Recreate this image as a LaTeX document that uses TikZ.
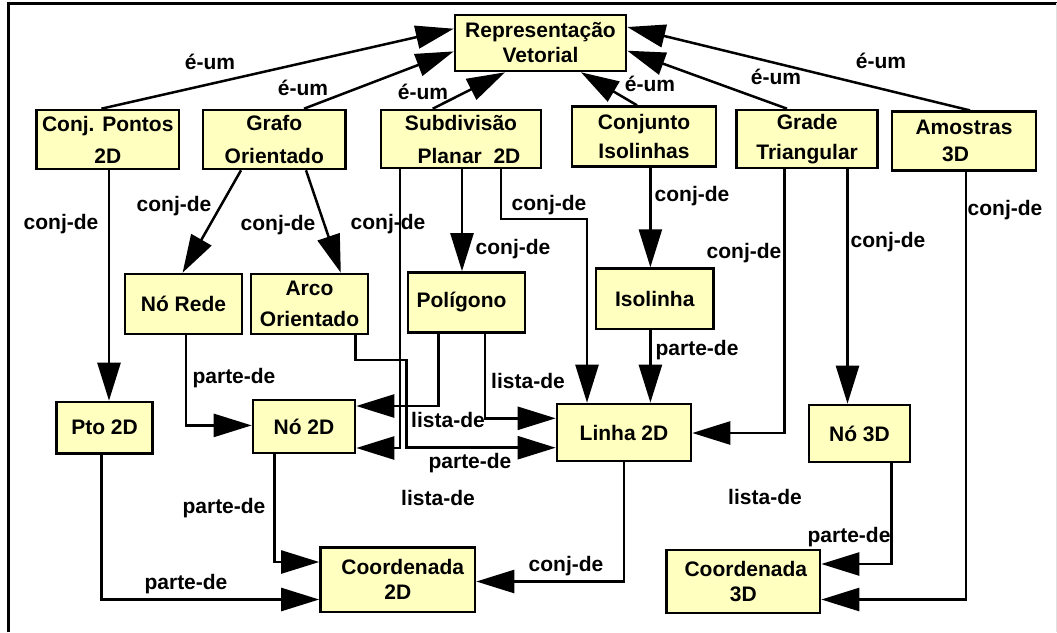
\documentclass[tikz,border=0pt]{standalone}
\usepackage{fontspec}
\setmainfont{Liberation Sans}
\usetikzlibrary{arrows.meta}
\definecolor{boxfill}{RGB}{255,255,192}
\tikzset{
  box/.style={draw, line width=2.6pt, fill=boxfill, align=center, inner sep=0pt,
    font=\bfseries\fontsize{21}{25}\selectfont},
  lbl/.style={inner sep=0pt, font=\bfseries\fontsize{21}{25}\selectfont},
  arr/.style={line width=2.5pt, line join=miter, -{Triangle[length=38pt,width=23pt]}},
}
\begin{document}
\begin{tikzpicture}[x=1pt,y=-1pt]
\useasboundingbox (0,0) rectangle (1057,632);
% frame
\draw[line width=2.5pt] (8.3,632) -- (8.3,3.3) -- (1057,3.3);
\draw[black!12, line width=1pt] (1056,3.3) -- (1056,632);

% boxes
\node[box, minimum width=171pt, minimum height=56pt] (rv) at (540.5,43) {Representação\\Vetorial};
\node[box, minimum width=142.5pt, minimum height=59pt] (cp) at (107.75,139.5) {Conj. Pontos\\[7pt]2D};
\node[box, minimum width=142.5pt, minimum height=59pt] (go) at (274.25,139.5) {Grafo\\[8pt]Orientado};
\node[box, minimum width=160pt, minimum height=58pt] (sp) at (461,139) {Subdivisão\\[8pt]\hspace*{16pt}Planar~~2D};
\node[box, minimum width=144pt, minimum height=60pt] (ci) at (644,136.6) {Conjunto\\[4pt]Isolinhas};
\node[box, minimum width=141pt, minimum height=58pt] (gt) at (807.1,139) {Grade\\[5pt]Triangular};
\node[box, minimum width=144pt, minimum height=59pt] (am) at (964,141.2) {Amostras\\[2pt]3D\hspace*{17pt}};
\node[box, minimum width=117pt, minimum height=60pt] (nr) at (183.5,304) {Nó Rede};
\node[box, minimum width=117pt, minimum height=60pt] (ao) at (309.5,304) {Arco\\[6pt]Orientado};
\node[box, minimum width=117pt, minimum height=60pt] (pg) at (466.5,302.5) {Polígono\hspace*{10pt}};
\node[box, minimum width=117.6pt, minimum height=60.4pt] (il) at (654.8,298.8) {Isolinha};
\node[box, minimum width=96.3pt, minimum height=51.4pt] (p2) at (104.6,427.7) {Pto 2D};
\node[box, minimum width=102pt, minimum height=53pt] (n2) at (304,426.5) {Nó 2D};
\node[box, minimum width=134pt, minimum height=57pt] (l2) at (624,432.5) {Linha 2D};
\node[box, minimum width=101pt, minimum height=57pt] (n3) at (859.5,433.5) {Nó 3D};
\node[box, minimum width=154.5pt, minimum height=64.3pt] (c2) at (397.75,579.85) {\hspace*{10pt}Coordenada\\2D};
\node[box, minimum width=153.4pt, minimum height=63.2pt] (c3) at (743.3,581.4) {\hspace*{5pt}Coordenada\\3D};

% é-um connectors
\draw[arr] (cp.north -| 101.4,0) -- (rv.west |- 0,28.7);
\draw[arr] (go.north -| 304,0) -- (rv.west |- 0,51.4);
\draw[arr] (sp.north -| 432.7,0) -- (rv.south -| 505,0);
\draw[arr] (ci.north -| 637,0) -- (rv.south -| 581,0);
\draw[arr] (gt.north -| 787,0) -- (rv.east |- 0,50.7);
\draw[arr] (am.north -| 970,0) -- (rv.east |- 0,27);

% other connectors
\draw[arr] (cp.south -| 109,0) -- (p2.north -| 109,0);
\draw[arr] (go.south -| 241,0) -- (nr.north -| 182.6,0);
\draw[arr] (go.south -| 306,0) -- (ao.north -| 340.8,0);
\draw[arr] (sp.south -| 400,0) -- (400,448) -- (n2.east |- 0,448);
\draw[arr] (sp.south -| 462,0) -- (pg.north -| 462,0);
\draw[arr] (sp.south -| 501,0) -- (501,219) -- (587,219) -- (l2.north -| 587,0);
\draw[arr] (ci.south -| 650.4,0) -- (il.north -| 650.4,0);
\draw[arr] (il.south -| 650.4,0) -- (l2.north -| 650.4,0);
\draw[arr] (gt.south -| 784.6,0) -- (784.6,433) -- (l2.east |- 0,433);
\draw[arr] (gt.south -| 847.5,0) -- (n3.north -| 847.5,0);
\draw[arr] (am.south -| 965.8,0) -- (965.8,599.5) -- (c3.east |- 0,599.5);
\draw[arr] (n3.south -| 891.4,0) -- (891.4,564) -- (c3.east |- 0,564);
\draw[arr] (nr.south -| 186,0) -- (186,425.4) -- (n2.west |- 0,425.4);
\draw[arr] (ao.south -| 355.3,0) -- (355.3,360) -- (406.7,360) -- (406.7,447.7) -- (l2.west |- 0,447.7);
\draw[arr] (pg.south -| 438.3,0) -- (438.3,406) -- (n2.east |- 0,406);
\draw[arr] (pg.south -| 485,0) -- (485,418.3) -- (l2.west |- 0,418.3);
\draw[arr] (n2.south -| 274.5,0) -- (274.5,562) -- (c2.west |- 0,562);
\draw[arr] (p2.south -| 101.4,0) -- (101.4,599.5) -- (c2.west |- 0,599.5);
\draw[arr] (l2.south -| 624,0) -- (624,581.5) -- (c2.east |- 0,581.5);

% labels
\node[lbl] (e1) at (210,62) {é-um};
\node[lbl] (e2) at (303,88) {é-um};
\node[lbl] (e3) at (423,92) {é-um};
\node[lbl] (e4) at (650,84) {é-um};
\node[lbl] (e5) at (776,77) {é-um};
\node[lbl] (e6) at (881,61) {é-um};
\node[lbl] (k1) at (61,224) {conj-de};
\node[lbl] (k2) at (174,206) {conj-de};
\node[lbl] (k3) at (278,225) {conj-de};
\node[lbl] (k4) at (388,224) {conj-de};
\node[lbl] (k5) at (513,249) {conj-de};
\node[lbl] (k6) at (549,205) {conj-de};
\node[lbl] (k7) at (692,196) {conj-de};
\node[lbl] (k8) at (744,253) {conj-de};
\node[lbl] (k9) at (888,242) {conj-de};
\node[lbl] (k10) at (1005,210) {conj-de};
\node[lbl] (k11) at (566,566) {conj-de};
\node[lbl] (t1) at (697,350) {parte-de};
\node[lbl] (t2) at (849,537) {parte-de};
\node[lbl] (t3) at (234,378) {parte-de};
\node[lbl] (t4) at (470,463) {parte-de};
\node[lbl] (t5) at (224,508) {parte-de};
\node[lbl] (t6) at (186,584) {parte-de};
\node[lbl] (s1) at (448,420) {lista-de};
\node[lbl] (s2) at (528,381) {lista-de};
\node[lbl] (s3) at (438,498) {lista-de};
\node[lbl] (s4) at (765,497) {lista-de};
\end{tikzpicture}
\end{document}
